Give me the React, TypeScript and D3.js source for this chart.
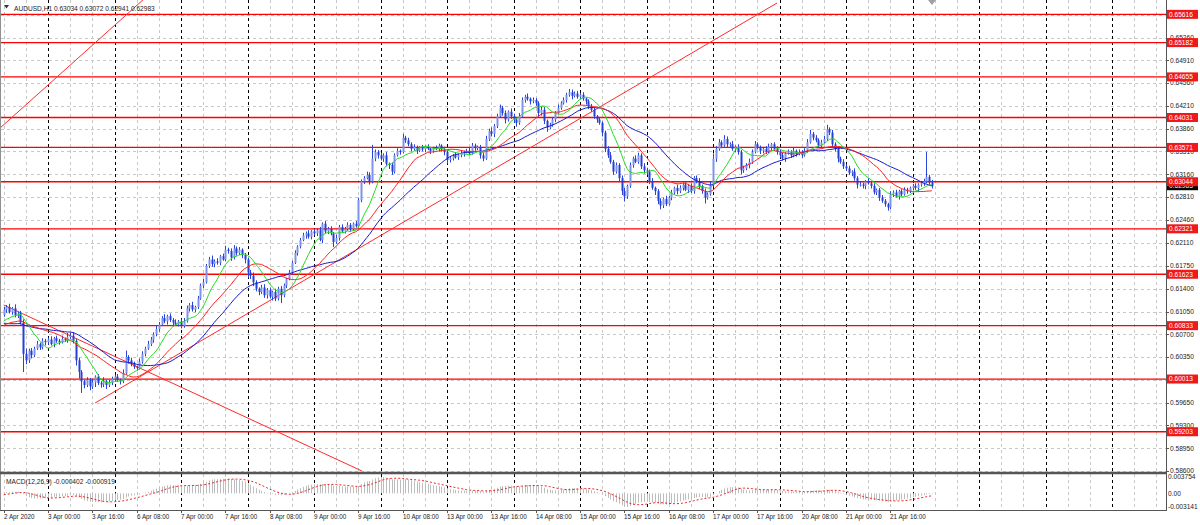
import React from 'react';
import * as d3 from 'd3';

// ---------- DATA ----------
// hourly closes (pips x 1e-4) before the first visible bar, used only to warm up the indicators
const priorCloses: number[] = [
  6125, 6118, 6110, 6102, 6095, 6088, 6092, 6085, 6078, 6072, 6080, 6086, 6075, 6068, 6072, 6080, 6088,
  6082, 6076, 6070, 6078, 6085, 6080, 6075, 6082, 6088, 6084, 6090, 6086, 6080, 6088, 6095, 6100,
];
// hourly closes in pips (x 1e-4), 2 Apr 08:00 .. 22 Apr 07:00
const closes: number[] = [
  // 2 Apr
  6108, 6112, 6104, 6110, 6099, 6102, 6088, 6040, 6030, 6045, 6038, 6048, 6055, 6050, 6060, 6058,
  // 3 Apr
  6062, 6055, 6064, 6060, 6058, 6063, 6061, 6066, 6068, 6060, 6030, 6012, 5998, 5992, 6000, 5990, 5996, 6005, 5995, 5993, 5998, 5992, 5996, 6002,
  // 6 Apr
  6005, 6000, 5998, 6010, 6035, 6030, 6025, 6020, 6018, 6028, 6040, 6048, 6055, 6062, 6070, 6078, 6085, 6095, 6090, 6098, 6092, 6088, 6085, 6090,
  // 7 Apr
  6083, 6090, 6110, 6115, 6108, 6112, 6125, 6145, 6150, 6175, 6185, 6178, 6182, 6180, 6190, 6185, 6200, 6198, 6188, 6202, 6195, 6200, 6192, 6185,
  // 8 Apr
  6165, 6160, 6150, 6140, 6135, 6142, 6130, 6138, 6128, 6135, 6125, 6140, 6130, 6145, 6155, 6165, 6180, 6195, 6205, 6215, 6222, 6225, 6220, 6228,
  // 9 Apr
  6225, 6230, 6215, 6240, 6228, 6232, 6225, 6212, 6218, 6235, 6228, 6232, 6238, 6232, 6240, 6236, 6276, 6305, 6310, 6315, 6305, 6340, 6350, 6345,
  // 10 Apr
  6340, 6345, 6332, 6330, 6320, 6345, 6352, 6350, 6372, 6368, 6362, 6355, 6358, 6352, 6356, 6354, 6358, 6355, 6352, 6356, 6355, 6360, 6354, 6350,
  // 13 Apr
  6338, 6340, 6345, 6342, 6345, 6348, 6350, 6352, 6348, 6360, 6356, 6358, 6345, 6340, 6370, 6382, 6378, 6390, 6405, 6418, 6410, 6400, 6412, 6405,
  // 14 Apr
  6400, 6395, 6405, 6430, 6435, 6432, 6428, 6430, 6425, 6410, 6415, 6398, 6388, 6392, 6400, 6410, 6418, 6425, 6430, 6438, 6442, 6436, 6440, 6435,
  // 15 Apr
  6438, 6432, 6428, 6420, 6415, 6405, 6400, 6395, 6380, 6355, 6345, 6335, 6320, 6330, 6310, 6290, 6282, 6298, 6330, 6340, 6335, 6345, 6328, 6322,
  // 16 Apr
  6320, 6305, 6295, 6290, 6275, 6268, 6278, 6270, 6280, 6288, 6295, 6290, 6295, 6300, 6292, 6298, 6290, 6310, 6305, 6298, 6290, 6280, 6285, 6300,
  // 17 Apr
  6340, 6355, 6365, 6360, 6370, 6362, 6362, 6355, 6358, 6350, 6322, 6325, 6330, 6335, 6350, 6362, 6358, 6352, 6355, 6350, 6358, 6362, 6355, 6350,
  // 20 Apr
  6345, 6340, 6348, 6350, 6345, 6352, 6348, 6350, 6345, 6352, 6365, 6378, 6372, 6368, 6360, 6365, 6370, 6385, 6380, 6362, 6355, 6340, 6335, 6328,
  // 21 Apr
  6325, 6318, 6320, 6310, 6300, 6300, 6298, 6305, 6302, 6298, 6288, 6292, 6280, 6275, 6270, 6265, 6285, 6288, 6282, 6290, 6285, 6292, 6290, 6295,
  // 22 Apr
  6298, 6295, 6300, 6302, 6305, 6312, 6303.4, 6298.3,
];

// upper / lower wick lengths in pips
const wickUp: number[] = [
  4, 3, 5, 2, 6, 3, 4, 5, 8, 3, 4, 3, 5, 2, 4, 3,
  3, 5, 2, 4, 3, 5, 2, 6, 4, 5, 3, 4, 3, 2, 4, 3, 5, 2, 4, 3, 6, 2, 4, 3,
  3, 4, 2, 6, 10, 3, 4, 3, 2, 5, 4, 3, 5, 4, 3, 5, 4, 3, 6, 2, 4, 3, 5, 2,
  3, 5, 4, 3, 5, 2, 4, 3, 5, 3, 4, 6, 3, 5, 2, 4, 6, 3, 4, 5, 3, 4, 2, 3,
  3, 4, 5, 3, 2, 4, 5, 3, 4, 2, 5, 3, 4, 3, 2, 4, 3, 4, 2, 3, 4, 3, 5, 2,
  4, 3, 5, 2, 4, 3, 4, 2, 5, 3, 4, 3, 4, 3, 2, 4, 4, 3, 3, 5, 4, 21, 4, 3,
  4, 3, 5, 2, 4, 3, 4, 2, 6, 3, 4, 3, 4, 2, 3, 5, 2, 4, 3, 2, 4, 3, 2, 4,
  3, 4, 2, 5, 3, 4, 2, 3, 5, 4, 3, 2, 3, 4, 5, 4, 6, 3, 4, 5, 3, 4, 2, 5,
  4, 3, 5, 4, 3, 5, 2, 4, 3, 3, 5, 4, 2, 3, 4, 3, 5, 3, 4, 3, 5, 4, 3, 4,
  3, 4, 2, 3, 4, 3, 2, 4, 2, 3, 4, 5, 3, 4, 3, 4, 5, 2, 4, 3, 5, 4, 3, 5,
  4, 3, 5, 2, 3, 4, 2, 5, 3, 4, 2, 5, 4, 3, 5, 2, 4, 3, 4, 5, 2, 4, 3, 5,
  8, 4, 5, 3, 6, 4, 3, 5, 2, 4, 3, 4, 3, 5, 4, 5, 3, 2, 3, 4, 5, 2, 3, 4,
  3, 4, 2, 4, 3, 5, 2, 4, 3, 4, 5, 6, 3, 4, 3, 4, 5, 7, 3, 4, 3, 2, 3, 4,
  3, 4, 2, 5, 3, 4, 3, 2, 5, 3, 4, 2, 3, 4, 3, 2, 5, 3, 4, 2, 3, 4, 3, 2,
  3, 4, 2, 3, 4, 38, 3, 3.8,
];
const wickDown: number[] = [
  3, 5, 2, 4, 3, 4, 3, 28, 6, 4, 5, 3, 2, 4, 3, 5,
  4, 2, 5, 3, 4, 2, 3, 4, 3, 4, 8, 10, 18, 5, 3, 6, 4, 7, 3, 5, 4, 6, 3, 4,
  4, 3, 5, 3, 2, 5, 4, 3, 4, 2, 3, 4, 2, 3, 5, 3, 4, 2, 3, 5, 3, 4, 2, 3,
  4, 3, 2, 5, 3, 4, 3, 2, 4, 2, 3, 4, 5, 3, 4, 2, 3, 4, 5, 3, 4, 3, 5, 6,
  8, 5, 6, 4, 5, 3, 4, 5, 3, 6, 4, 3, 12, 3, 4, 2, 3, 2, 4, 3, 2, 5, 3, 4,
  3, 4, 2, 5, 3, 4, 3, 8, 3, 4, 2, 3, 3, 4, 3, 2, 2, 3, 4, 2, 5, 3, 4, 5,
  3, 5, 4, 6, 5, 3, 2, 4, 2, 4, 3, 4, 3, 5, 2, 3, 4, 2, 5, 3, 2, 4, 3, 5,
  6, 4, 3, 2, 4, 3, 5, 2, 3, 2, 4, 3, 5, 4, 2, 3, 4, 5, 3, 2, 4, 6, 3, 4,
  5, 6, 3, 2, 4, 3, 5, 3, 4, 6, 4, 5, 7, 3, 3, 4, 2, 3, 2, 4, 3, 5, 2, 3,
  4, 3, 5, 4, 3, 4, 5, 3, 6, 5, 4, 3, 5, 3, 5, 6, 8, 4, 3, 4, 2, 3, 4, 5,
  5, 4, 3, 6, 5, 6, 4, 3, 2, 4, 3, 5, 3, 4, 2, 5, 3, 4, 3, 5, 4, 9, 3, 2,
  3, 5, 3, 4, 2, 5, 4, 3, 5, 4, 6, 4, 3, 5, 3, 2, 4, 5, 4, 3, 2, 5, 3, 4,
  4, 3, 5, 2, 4, 3, 5, 3, 4, 2, 3, 2, 4, 3, 4, 3, 2, 3, 4, 5, 4, 6, 3, 4,
  4, 3, 5, 4, 6, 3, 4, 5, 2, 4, 3, 4, 5, 3, 4, 5, 3, 4, 2, 5, 3, 2, 4, 3,
  4, 3, 5, 3, 4, 3, 4, 4.2,
];

const levels: number[] = [0.65616, 0.65182, 0.64655, 0.64031, 0.63571, 0.63044, 0.62321, 0.61623, 0.60833, 0.60013, 0.59203];
const priceTicks: number[] = [0.6561, 0.6526, 0.6491, 0.6456, 0.6421, 0.6386, 0.6351, 0.6316, 0.6281, 0.6246, 0.6211, 0.6175, 0.614, 0.6105, 0.607, 0.6035, 0.6, 0.5965, 0.593, 0.5895, 0.586];
const timeLabels: string[] = ['2 Apr 2020', '3 Apr 00:00', '3 Apr 16:00', '6 Apr 08:00', '7 Apr 00:00', '7 Apr 16:00', '8 Apr 08:00', '9 Apr 00:00', '9 Apr 16:00', '10 Apr 08:00', '13 Apr 00:00', '13 Apr 16:00', '14 Apr 08:00', '15 Apr 00:00', '15 Apr 16:00', '16 Apr 08:00', '17 Apr 00:00', '17 Apr 16:00', '20 Apr 08:00', '21 Apr 00:00', '21 Apr 16:00'];
const currentPrice = 0.62983;
const headerText = 'AUDUSD,H1  0.63034 0.63072 0.62941 0.62983';
const macdText = 'MACD(12,26,9) -0.000402 -0.000919';
const macdTicks: { v: number; label: string }[] = [
  { v: 0.003754, label: '0.003754' },
  { v: 0, label: '0.00' },
  { v: -0.003141, label: '-0.003141' },
];
// trend lines as [bar index, price] anchors
const trendLines: [number, number][][] = [
  [[-1.3, 0.6387], [50.3, 0.6584]],
  [[33.0, 0.59645], [279.1, 0.6579]],
  [[0, 0.61151], [129.3, 0.586]],
];
const maSpecs = [
  { period: 34, color: '#1a1acc' },
  { period: 21, color: '#ff2222' },
  { period: 10, color: '#22dd22' },
];

// ---------- HELPERS ----------
function sma(vals: number[], n: number): number[] {
  return vals.map((_, i) => d3.mean(vals.slice(Math.max(0, i - n + 1), i + 1)) as number);
}
function ema(vals: number[], n: number): number[] {
  const k = 2 / (n + 1);
  let e = vals[0];
  return vals.map((v) => (e = e + k * (v - e)));
}

const FONT = "'Liberation Sans', Arial, sans-serif";
const PLOT_R = 1166;
const MAIN_B = 471;
const MACD_T = 475;
const MACD_B = 510;
const AX_FS = 6.6;

export default function App() {
  const P = priorCloses.length;
  const bars = closes.map((c, i) => {
    const close = c / 1e4;
    const open = (i === 0 ? priorCloses[P - 1] : closes[i - 1]) / 1e4;
    const high = Math.max(open, close) + (wickUp[i] ?? 3) / 1e4;
    const low = Math.min(open, close) - (wickDown[i] ?? 3) / 1e4;
    return { i, open, high, low, close };
  });
  const all = priorCloses.concat(closes).map((c) => c / 1e4);

  const x = d3.scaleLinear().domain([0, 335]).range([3.7, 931.9]);
  const y = d3.scaleLinear().domain([0.586, 0.6491]).range([471.0, 60.3]);
  const ym = d3.scaleLinear().domain([-0.003141, 0.003754]).range([507, 477]);

  const e12 = ema(all, 12);
  const e26 = ema(all, 26);
  const macdAll = all.map((_, i) => e12[i] - e26[i]);
  const signal = sma(macdAll, 9).slice(P);
  const macd = macdAll.slice(P);

  const line = d3.line<number>().x((_, i) => x(i)).y((d) => y(d));
  const sigLine = d3.line<number>().x((_, i) => x(i)).y((d) => ym(d));
  const tl = d3.line<[number, number]>().x((d) => x(d[0])).y((d) => y(d[1]));

  const gridIdx: number[] = [];
  const dayIdx: number[] = [];
  for (let i = 0; x(i) < PLOT_R; i += 8) {
    if ((i - 16) % 24 === 0 && i >= 16) dayIdx.push(i);
    else gridIdx.push(i);
  }

  return (
    <svg width={1200} height={525} style={{ position: 'absolute', left: 0, top: 0, background: '#fff' }} fontFamily={FONT}>
      <defs>
        <clipPath id="mainClip"><rect x={1} y={0} width={PLOT_R - 1} height={MAIN_B} /></clipPath>
        <clipPath id="macdClip"><rect x={1} y={MACD_T} width={PLOT_R - 1} height={MACD_B - MACD_T} /></clipPath>
      </defs>
      <rect x={0} y={0} width={1200} height={525} fill="#ffffff" />

      {/* horizontal grid */}
      {priceTicks.map((v) => (
        <line key={'hg' + v} x1={1} x2={PLOT_R} y1={Math.round(y(v)) + 0.5} y2={Math.round(y(v)) + 0.5} stroke="#c8c8c8" strokeDasharray="3,3" />
      ))}
      {/* vertical grid */}
      {gridIdx.map((i) => (
        <line key={'vg' + i} x1={Math.round(x(i)) + 0.5} x2={Math.round(x(i)) + 0.5} y1={0} y2={MACD_B} stroke="#c8c8c8" strokeDasharray="3,3" />
      ))}
      {dayIdx.map((i) => (
        <line key={'ds' + i} x1={Math.round(x(i)) + 0.5} x2={Math.round(x(i)) + 0.5} y1={0} y2={MACD_B} stroke="#000" strokeDasharray="3,3" />
      ))}

      {/* horizontal levels */}
      {levels.map((v) => (
        <line key={'lv' + v} x1={1} x2={PLOT_R} y1={y(v)} y2={y(v)} stroke="#ff0000" strokeWidth={1.3} />
      ))}

      <g clipPath="url(#mainClip)">
        {/* trend lines */}
        {trendLines.map((t, k) => (
          <path key={'tl' + k} d={tl(t) || ''} fill="none" stroke="#ff2a2a" strokeWidth={1} />
        ))}
        {/* candles */}
        {bars.map((b) => {
          const cx = Math.round(x(b.i));
          const top = y(Math.max(b.open, b.close));
          const bot = y(Math.min(b.open, b.close));
          const bull = b.close >= b.open;
          return (
            <g key={'c' + b.i}>
              <line x1={cx + 0.5} x2={cx + 0.5} y1={y(b.high)} y2={y(b.low)} stroke="#2a44d8" strokeWidth={1} />
              <rect x={cx - 0.5} y={top} width={2} height={Math.max(1, bot - top)} fill={bull ? '#7f93ee' : '#2440d6'} />
            </g>
          );
        })}
        {/* moving averages */}
        {maSpecs.map((m) => (
          <path key={'ma' + m.period} d={line(sma(all, m.period).slice(P)) || ''} fill="none" stroke={m.color} strokeWidth={1} />
        ))}
      </g>

      {/* MACD panel */}
      <g clipPath="url(#macdClip)">
        {macd.map((v, i) => (
          <line key={'mh' + i} x1={Math.round(x(i)) + 0.5} x2={Math.round(x(i)) + 0.5} y1={ym(0)} y2={ym(v)} stroke="#bdbdbd" strokeWidth={1} />
        ))}
        <path d={sigLine(signal) || ''} fill="none" stroke="#ee2222" strokeWidth={1} strokeDasharray="2,2" />
      </g>

      {/* frames */}
      <line x1={0.5} x2={0.5} y1={0} y2={MACD_B} stroke="#909090" />
      <line x1={0} x2={PLOT_R} y1={473} y2={473} stroke="#555" strokeWidth={2.5} />
      <line x1={0} x2={PLOT_R + 1} y1={MACD_B + 0.5} y2={MACD_B + 0.5} stroke="#555" />
      <line x1={PLOT_R + 0.5} x2={PLOT_R + 0.5} y1={0} y2={MACD_B + 1} stroke="#555" />

      {/* header */}
      <polygon points="4,5 9,5 6.5,8.5" fill="#333" />
      <text x={14} y={10.5} fontSize={6.6} fill="#222">{headerText}</text>
      <text x={6} y={484} fontSize={6.6} fill="#222">{macdText}</text>
      {/* chart shift marker */}
      <polygon points="928,0 936,0 932,5" fill="#a0a0a0" />

      {/* price axis */}
      {priceTicks.map((v) => (
        <g key={'pt' + v}>
          <line x1={PLOT_R} x2={PLOT_R + 3} y1={Math.round(y(v)) + 0.5} y2={Math.round(y(v)) + 0.5} stroke="#555" />
          <text x={1170} y={y(v) + 2.4} fontSize={AX_FS} fill="#222">{v.toFixed(5)}</text>
        </g>
      ))}
      {/* current price */}
      <rect x={1167} y={y(currentPrice) - 4.5} width={31} height={9} fill="#000" />
      <text x={1169} y={y(currentPrice) + 2.4} fontSize={AX_FS} fill="#fff">{currentPrice.toFixed(5)}</text>
      {levels.map((v) => (
        <g key={'lb' + v}>
          <rect x={1167} y={y(v) - 4.5} width={31} height={9} fill="#f01818" />
          <text x={1169} y={y(v) + 2.4} fontSize={AX_FS} fill="#fff">{v.toFixed(5)}</text>
        </g>
      ))}
      {macdTicks.map((t) => (
        <text key={'mt' + t.label} x={1168} y={ym(t.v) + 2.4} fontSize={AX_FS} fill="#222">{t.label}</text>
      ))}

      {/* time axis */}
      {timeLabels.map((s, k) => {
        const xi = Math.round(x(k * 16));
        return (
          <g key={'tx' + k}>
            <line x1={xi + 0.5} x2={xi + 0.5} y1={MACD_B} y2={MACD_B + 3} stroke="#555" />
            <text x={xi} y={519} fontSize={6.3} fill="#222">{s}</text>
          </g>
        );
      })}
    </svg>
  );
}
